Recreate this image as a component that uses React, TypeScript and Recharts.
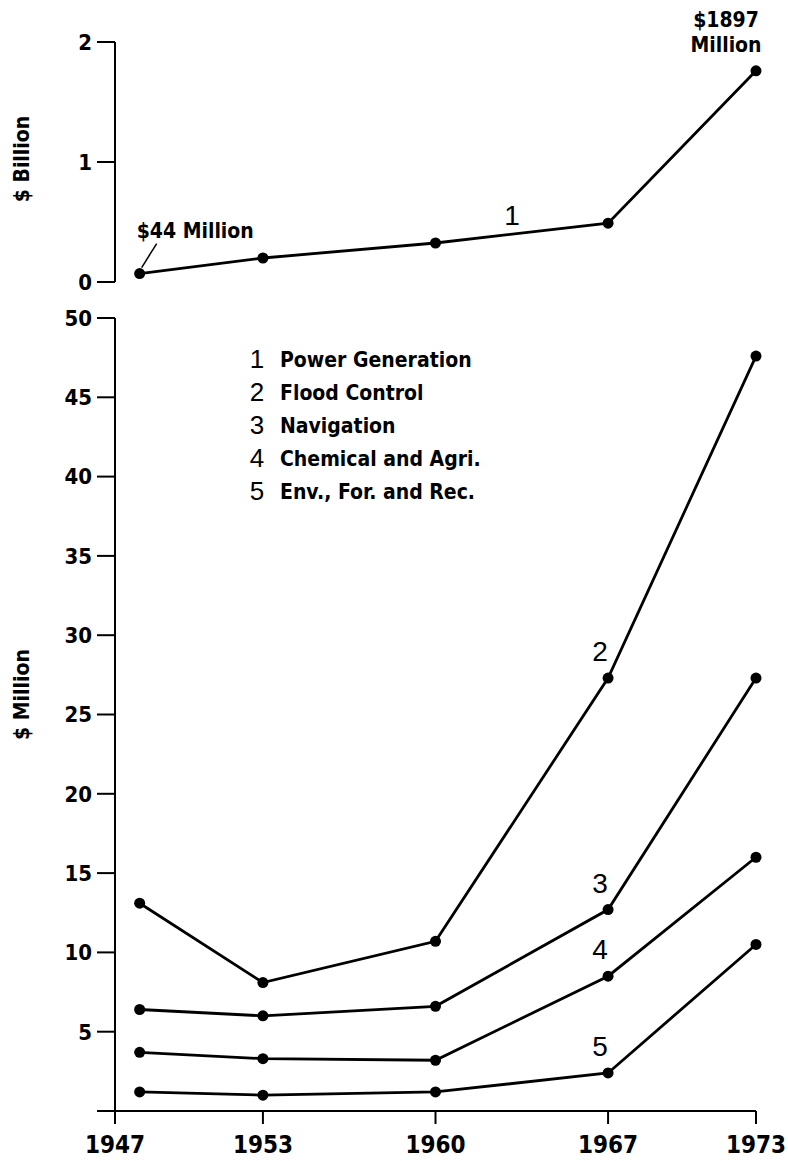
import React from "react";
import {
  LineChart,
  Line,
  XAxis,
  YAxis,
  LabelList,
  ReferenceDot,
} from "recharts";

// ─── Data ───────────────────────────────────────────────────────────────────

const years = [1948, 1953, 1960, 1967, 1973];
const yearTicks = [1947, 1953, 1960, 1967, 1973];

// $ Billion
const powerGeneration = [0.07, 0.2, 0.325, 0.49, 1.76];
// $ Million
const floodControl = [13.1, 8.1, 10.7, 27.3, 47.6];
const navigation = [6.4, 6.0, 6.6, 12.7, 27.3];
const chemicalAgri = [3.7, 3.3, 3.2, 8.5, 16.0];
const envForRec = [1.2, 1.0, 1.2, 2.4, 10.5];

const billionTicks = [0, 1, 2];
const millionTicks = [0, 5, 10, 15, 20, 25, 30, 35, 40, 45, 50];

const legendItems = [
  { num: "1", label: "Power Generation" },
  { num: "2", label: "Flood Control" },
  { num: "3", label: "Navigation" },
  { num: "4", label: "Chemical and Agri." },
  { num: "5", label: "Env., For. and Rec." },
];

const topData = years.map((year, i) => ({ year, power: powerGeneration[i] }));
const bottomData = years.map((year, i) => ({
  year,
  flood: floodControl[i],
  navigation: navigation[i],
  chem: chemicalAgri[i],
  env: envForRec[i],
}));

// ─── Styles ─────────────────────────────────────────────────────────────────

const BOLD = "'Liberation Sans Narrow', 'DejaVu Sans Condensed', 'Liberation Sans', sans-serif";
const PLAIN = "'Liberation Sans', Arial, sans-serif";
const INK = "#000";

const tickStyle = { fill: INK, fontSize: 22, fontFamily: BOLD, fontWeight: 700 };
const dotStyle = { r: 5.5, fill: INK, stroke: INK, strokeWidth: 0 };
const LINE_W = 2.8;

// number label next to the 1967 point of each lower series
function SeriesNumber(num: string) {
  return (props: any) => {
    if (props.index !== 3) return null;
    return (
      <text
        x={props.x - 8}
        y={props.y - 17}
        textAnchor="middle"
        fontFamily={PLAIN}
        fontSize={28}
        fill={INK}
      >
        {num}
      </text>
    );
  };
}

function PowerEndLabels(props: any) {
  const { x, y, index } = props;
  if (index === 0) {
    return (
      <g>
        <line x1={x + 2} y1={y - 6} x2={x + 17} y2={y - 30} stroke={INK} strokeWidth={1.5} />
        <text x={x - 3} y={y - 36} fontFamily={BOLD} fontWeight={700} fontSize={21} fill={INK}>
          $44 Million
        </text>
      </g>
    );
  }
  if (index === 4) {
    return (
      <text textAnchor="middle" fontFamily={BOLD} fontWeight={700} fontSize={21} fill={INK}>
        <tspan x={x - 30} y={y - 44}>$1897</tspan>
        <tspan x={x - 30} y={y - 19}>Million</tspan>
      </text>
    );
  }
  return null;
}

function AxisTitle(text: string, dy: number) {
  return (props: any) => {
    const vb = props.viewBox;
    const cx = vb.x + 22;
    const cy = vb.y + vb.height / 2 + dy;
    return (
      <text
        x={cx}
        y={cy}
        transform={`rotate(-90, ${cx}, ${cy})`}
        textAnchor="middle"
        dominantBaseline="central"
        fontFamily={BOLD}
        fontWeight={700}
        fontSize={21}
        fill={INK}
      >
        {text}
      </text>
    );
  };
}

// ─── Chart ──────────────────────────────────────────────────────────────────

export default function App() {
  return (
    <div
      style={{
        position: "absolute",
        left: 0,
        top: 0,
        width: 788,
        height: 1161,
        background: "#fff",
      }}
    >
      {/* Upper panel: $ Billion */}
      <div style={{ position: "absolute", left: 0, top: 0 }}>
        <LineChart
          width={788}
          height={300}
          data={topData}
          margin={{ top: 42, right: 32, bottom: 18, left: 0 }}
        >
          <XAxis dataKey="year" type="number" domain={[1947, 1973]} hide />
          <YAxis
            domain={[0, 2]}
            ticks={billionTicks}
            width={115}
            tick={tickStyle}
            tickSize={18}
            tickMargin={5}
            tickLine={{ stroke: INK, strokeWidth: 2 }}
            axisLine={{ stroke: INK, strokeWidth: 2 }}
            label={{ content: AxisTitle("$ Billion", -3) }}
          />
          <ReferenceDot
            x={1963.1}
            y={0.43}
            r={0}
            fill="none"
            stroke="none"
            label={{
              value: "1",
              position: "top",
              fontFamily: PLAIN,
              fontSize: 28,
              fill: INK,
            }}
          />
          <Line
            dataKey="power"
            stroke={INK}
            strokeWidth={LINE_W}
            dot={dotStyle}
            isAnimationActive={false}
          >
            <LabelList dataKey="power" content={PowerEndLabels} />
          </Line>
        </LineChart>
      </div>

      {/* Lower panel: $ Million */}
      <div style={{ position: "absolute", left: 0, top: 300 }}>
        <LineChart
          width={788}
          height={861}
          data={bottomData}
          margin={{ top: 18, right: 32, bottom: 10, left: 0 }}
        >
          <XAxis
            dataKey="year"
            type="number"
            domain={[1947, 1973]}
            ticks={yearTicks}
            height={40}
            tick={{ ...tickStyle, fontSize: 24 }}
            tickSize={13}
            tickMargin={12}
            tickLine={{ stroke: INK, strokeWidth: 2 }}
            axisLine={{ stroke: INK, strokeWidth: 2 }}
          />
          <YAxis
            domain={[0, 50]}
            ticks={millionTicks}
            width={115}
            tick={tickStyle}
            tickFormatter={(v: number) => (v === 0 ? "" : String(v))}
            tickSize={18}
            tickMargin={5}
            tickLine={{ stroke: INK, strokeWidth: 2 }}
            axisLine={{ stroke: INK, strokeWidth: 2 }}
            label={{ content: AxisTitle("$ Million", -20) }}
          />
          <Line dataKey="flood" stroke={INK} strokeWidth={LINE_W} dot={dotStyle} isAnimationActive={false}>
            <LabelList dataKey="flood" content={SeriesNumber("2")} />
          </Line>
          <Line dataKey="navigation" stroke={INK} strokeWidth={LINE_W} dot={dotStyle} isAnimationActive={false}>
            <LabelList dataKey="navigation" content={SeriesNumber("3")} />
          </Line>
          <Line dataKey="chem" stroke={INK} strokeWidth={LINE_W} dot={dotStyle} isAnimationActive={false}>
            <LabelList dataKey="chem" content={SeriesNumber("4")} />
          </Line>
          <Line dataKey="env" stroke={INK} strokeWidth={LINE_W} dot={dotStyle} isAnimationActive={false}>
            <LabelList dataKey="env" content={SeriesNumber("5")} />
          </Line>
        </LineChart>
      </div>

      {/* Legend */}
      <div style={{ position: "absolute", left: 242, top: 343, color: INK }}>
        {legendItems.map((item) => (
          <div
            key={item.num}
            style={{ display: "flex", alignItems: "center", height: 33 }}
          >
            <span
              style={{
                width: 30,
                textAlign: "center",
                fontFamily: PLAIN,
                fontSize: 26,
              }}
            >
              {item.num}
            </span>
            <span
              style={{
                marginLeft: 8,
                fontFamily: BOLD,
                fontWeight: 700,
                fontSize: 21,
              }}
            >
              {item.label}
            </span>
          </div>
        ))}
      </div>
    </div>
  );
}
